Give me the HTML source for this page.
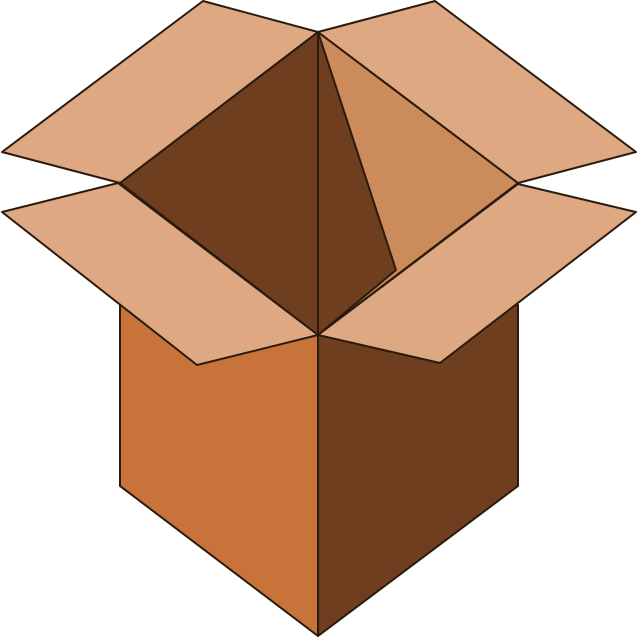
<!DOCTYPE html>
<html><head><meta charset="utf-8"><style>
html,body{margin:0;padding:0;background:#fff;width:640px;height:640px;overflow:hidden}
svg{display:block}
</style></head><body>
<svg width="640" height="640" viewBox="0 0 640 640">
<g stroke="#2b1a0e" stroke-width="2" stroke-linejoin="round">
  <polygon points="120,300 318,335 318,636 120,486" fill="#c8733a"/>
  <polygon points="318,335 518,305 518,486 318,636" fill="#6e3e1e"/>
  <polygon points="318,32 518,183 318,335" fill="#cc8b5a"/>
  <polygon points="120,183 318,32 318,335" fill="#6e3e1e"/>
  <polygon points="318,32 396,270 318,335" fill="#6e3e1e"/>
  <polygon points="2,152 203,1 318,32 120,183" fill="#dea882"/>
  <polygon points="318,32 435,1 636,152 518,183" fill="#dea882"/>
  <polygon points="2,212 118,183 318,335 197,365" fill="#dea882"/>
  <polygon points="318,335 518,184 636,212 440,363" fill="#dea882"/>
  <line x1="318" y1="335" x2="318" y2="636"/>
</g>
</svg>
</body></html>
